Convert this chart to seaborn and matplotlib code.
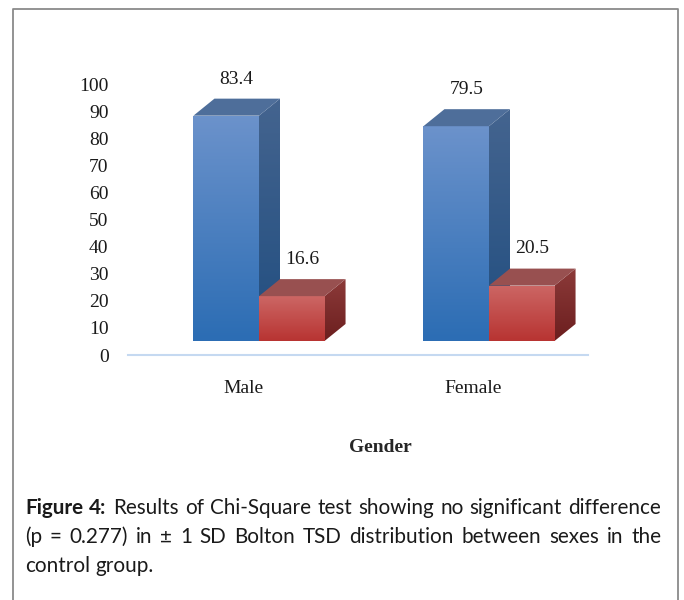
import numpy as np
import pandas as pd
import seaborn as sns
import matplotlib
matplotlib.use('Agg')
from matplotlib import pyplot as plt
from matplotlib.patches import Polygon
from matplotlib.lines import Line2D
from matplotlib.colors import LinearSegmentedColormap

# data
genders = ['Male', 'Female']
groups = ['Within ± 1 SD', 'Outside ± 1 SD']
within_pct = [83.4, 79.5]
outside_pct = [16.6, 20.5]
y_ticks = list(range(0, 101, 10))

df = pd.DataFrame({
    'Gender': genders * 2,
    'Group': [groups[0]] * 2 + [groups[1]] * 2,
    'Percent': within_pct + outside_pct,
})

# colours: (front top, front bottom, side top, side bottom, top face)
shades = {
    groups[0]: ('#6b92cb', '#2c6db4', '#44648f', '#214e80', '#4e6e9a'),
    groups[1]: ('#cc6664', '#b83432', '#8c3a39', '#6c1f1f', '#985050'),
}

sns.set_style('white')
plt.rcParams['font.family'] = ['Liberation Serif', 'DejaVu Serif']

fig = plt.figure(figsize=(6.84, 6.0), dpi=100)
ax = fig.add_axes([128 / 684, 1 - 355 / 600, 460 / 684, 295 / 600])

sns.barplot(data=df, x='Gender', y='Percent', hue='Group', order=genders,
            hue_order=groups, width=0.57, legend=False, ax=ax,
            palette=[shades[g][1] for g in groups])

# 3d look: depth in data units, offset of the group from category centre
dx, dy = 21 / 230, 17 / 2.7
shift = 16 / 230
floor = 14 / 2.7


def gradient(poly, c_top, c_bot, z):
    cmap = LinearSegmentedColormap.from_list('g', [c_bot, c_top])
    xs, ys = poly.get_xy()[:, 0], poly.get_xy()[:, 1]
    im = ax.imshow(np.linspace(0, 1, 64).reshape(-1, 1), cmap=cmap, origin='lower',
                   extent=(xs.min(), xs.max(), ys.min(), ys.max()),
                   aspect='auto', zorder=z, interpolation='bilinear')
    im.set_clip_path(poly)


for k, (grp, cont) in enumerate(zip(groups, ax.containers)):
    ft, fb, st, sb, tc = shades[grp]
    for bar in cont:
        x0 = bar.get_x() + shift
        w, h = bar.get_width(), bar.get_height()
        bar.set_visible(False)
        z = 2 + 3 * k
        front = Polygon([(x0, 0), (x0 + w, 0), (x0 + w, h), (x0, h)],
                        closed=True, fc='none', ec='none', zorder=z)
        side = Polygon([(x0 + w, 0), (x0 + w + dx, dy), (x0 + w + dx, h + dy), (x0 + w, h)],
                       closed=True, fc='none', ec='none', zorder=z)
        top = Polygon([(x0, h), (x0 + dx, h + dy), (x0 + w + dx, h + dy), (x0 + w, h)],
                      closed=True, fc=tc, ec='none', zorder=z + 1)
        for p in (front, side, top):
            ax.add_patch(p)
        gradient(front, ft, fb, z)
        gradient(side, st, sb, z)
        ax.annotate(f'{h:.1f}', (x0 + (w + dx) / 2, h + dy), xytext=(0, 8),
                    textcoords='offset points', ha='center', va='bottom',
                    fontsize=14, color='#1a1a1a', annotation_clip=False)

ax.set_xlim(-0.5, 1.5)
ax.set_ylim(-floor, 104)

ax.set_yticks(np.array(y_ticks) - floor)
ax.set_yticklabels([str(t) for t in y_ticks], fontsize=14, color='#1a1a1a')
ax.tick_params(axis='y', length=0, pad=14)

ax.set_xticks(range(len(genders)))
ax.set_xticklabels(genders, fontsize=14, color='#1a1a1a')
ax.set_xticks([-0.5, 0.5, 1.5], minor=True)
ax.tick_params(axis='x', which='major', length=0, pad=18)
ax.tick_params(axis='x', which='minor', length=5, color='#c5d9f1', width=1.2)
ax.set_xlabel('Gender', fontsize=14, fontweight='bold')
ax.xaxis.set_label_coords((380 - 128) / 460, (355 - 447) / 295)
ax.xaxis.label.set_va('center')
ax.set_ylabel('')

for s in ['top', 'right', 'left']:
    ax.spines[s].set_visible(False)
ax.spines['bottom'].set_color('#c5d9f1')
ax.spines['bottom'].set_linewidth(1.5)

# frame round the figure (open at the bottom)
frame = Line2D([13 / 684, 13 / 684, 678 / 684, 678 / 684],
               [0, 1 - 9 / 600, 1 - 9 / 600, 0],
               transform=fig.transFigure, color='#8a8a8a', lw=1.3)
fig.add_artist(frame)

# justified caption
cap_font = ['Lato', 'DejaVu Sans']
lines = [
    [('Figure', 'bold'), ('4:', 'bold'), ('Results', 'normal'), ('of', 'normal'),
     ('Chi-Square', 'normal'), ('test', 'normal'), ('showing', 'normal'), ('no', 'normal'),
     ('significant', 'normal'), ('difference', 'normal')],
    [(w, 'normal') for w in '(p = 0.277) in ± 1 SD Bolton TSD distribution between sexes in the'.split(' ')],
    [(w, 'normal') for w in 'control group.'.split(' ')],
]
left_px, right_px = 25, 661
line_y = [508, 537, 566]

renderer = fig.canvas.get_renderer()


def text_w(s, size, weight='normal'):
    t = fig.text(0, 0, s, fontsize=size, fontweight=weight, family=cap_font)
    wd = t.get_window_extent(renderer).width
    t.remove()
    return wd


# size the caption so the first line fills the width with ordinary spaces
probe = 13.0
natural = sum(text_w(w, probe, wt) for w, wt in lines[0]) + 9 * (text_w('a a', probe) - text_w('aa', probe))
cap_size = probe * (right_px - left_px - 12) / natural
space = text_w('a a', cap_size) - text_w('aa', cap_size)

for i, words in enumerate(lines):
    y = 1 - line_y[i] / 600
    texts = [fig.text(0, y, w, fontsize=cap_size, fontweight=wt, family=cap_font,
                      va='center', ha='left', color='#1a1a1a') for w, wt in words]
    widths = [t.get_window_extent(renderer).width for t in texts]
    if i < len(lines) - 1:
        gap = (right_px - left_px - sum(widths)) / (len(words) - 1)
    else:
        gap = space
    x = left_px
    for t, wd in zip(texts, widths):
        t.set_x(x / 684)
        x += wd + gap

fig.savefig('out.png', dpi=100)
